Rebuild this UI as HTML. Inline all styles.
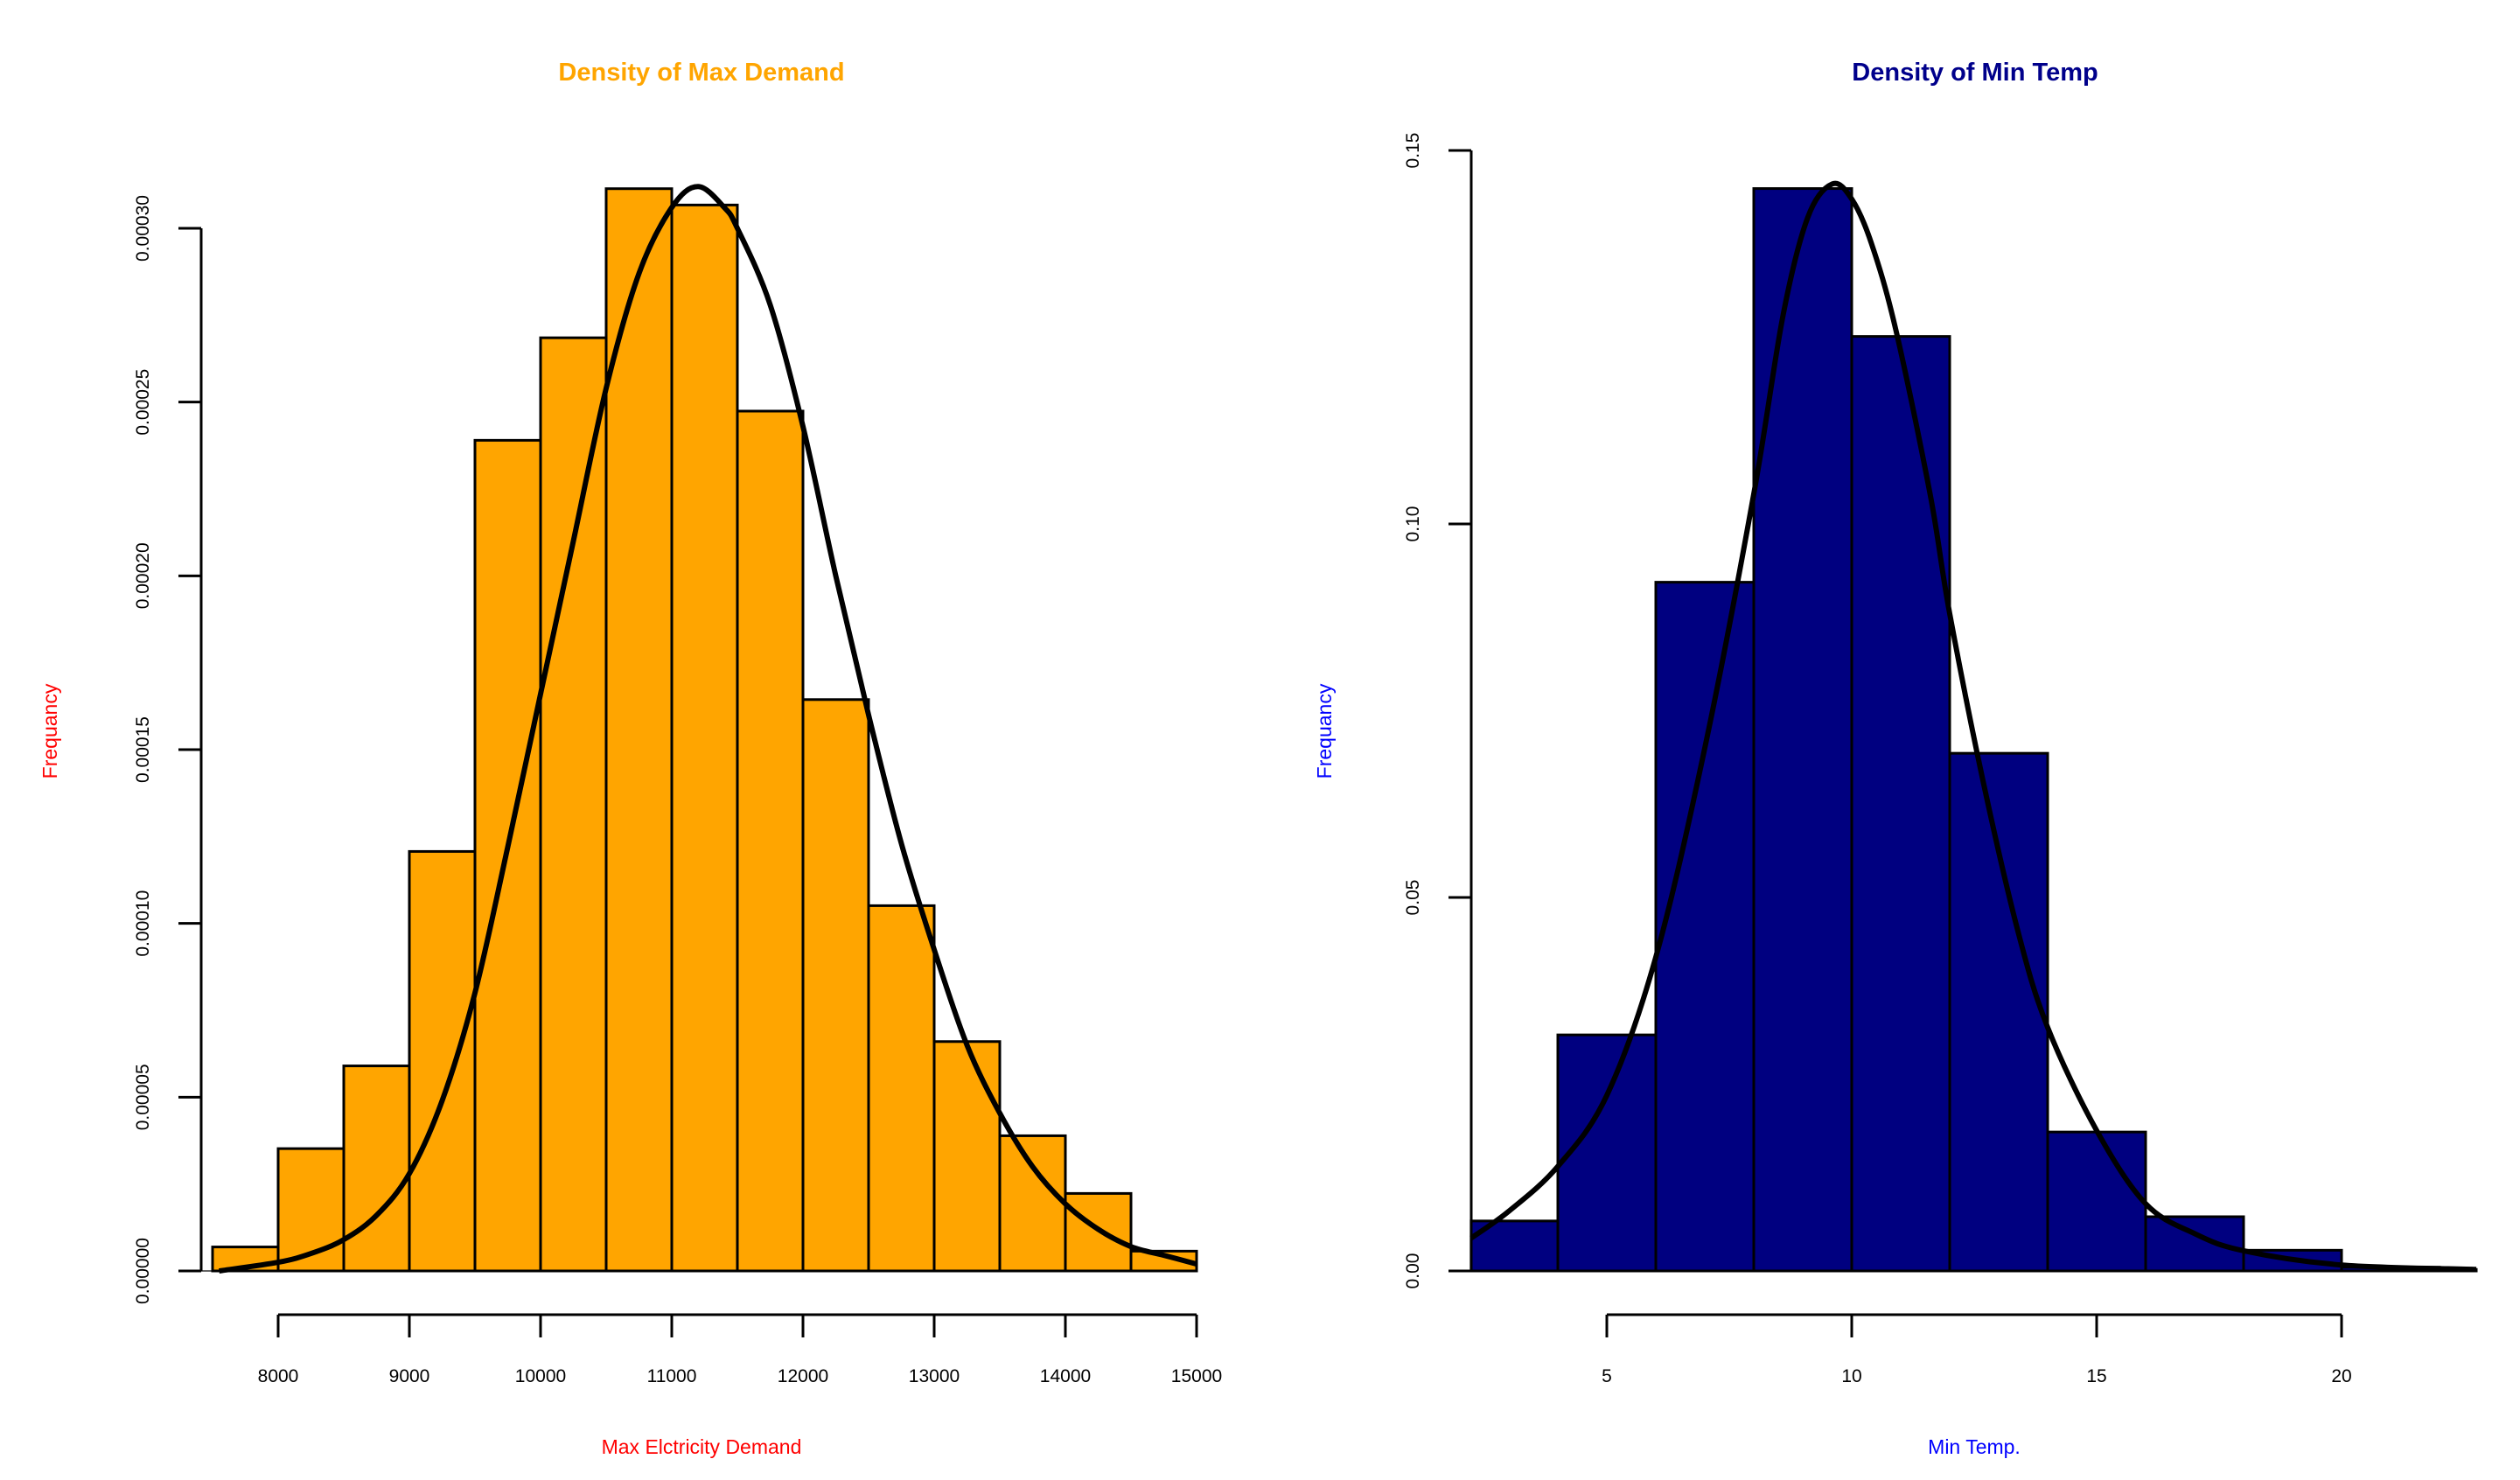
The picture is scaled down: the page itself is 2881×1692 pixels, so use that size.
<!DOCTYPE html>
<html><head><meta charset="utf-8"><style>
html,body{margin:0;padding:0;background:#fff;}
svg{display:block;font-family:"Liberation Sans",sans-serif;}
</style></head><body>
<svg id="c" width="2881" height="1692" viewBox="0 0 2881 1692">
<text x="802" y="92" text-anchor="middle" font-size="29" font-weight="bold" fill="#FFA500">Density of Max Demand</text>
<text x="2258" y="92" text-anchor="middle" font-size="29" font-weight="bold" fill="#00008B">Density of Min Temp</text>
<text x="802" y="1662" text-anchor="middle" font-size="23" fill="#FF0000">Max Elctricity Demand</text>
<text x="2257" y="1662" text-anchor="middle" font-size="23" fill="#0000FF">Min Temp.</text>
<text transform="translate(65,836) rotate(-90)" text-anchor="middle" font-size="23" fill="#FF0000">Frequancy</text>
<text transform="translate(1522,836) rotate(-90)" text-anchor="middle" font-size="23" fill="#0000FF">Frequancy</text>
<g id="L"></g>
<g id="R"></g>
</svg>
<script>
// Left chart data
const demandBreaks = [7500,8000,8500,9000,9500,10000,10500,11000,11500,12000,12500,13000,13500,14000,14500,15000];
const demandDensity = [0.0000069,0.0000352,0.000059,0.0001207,0.000239,0.0002685,0.0003114,0.0003067,0.0002474,0.0001644,0.0001051,0.000066,0.0000389,0.0000223,0.0000057];
const demandCurveX = [7550,8000,8250,8500,8750,9000,9250,9500,9750,10000,10250,10500,10750,11000,11200,11400,11500,11750,12000,12250,12500,12750,13000,13250,13500,13750,14000,14250,14500,14750,15000];
const demandCurveY = [0,0.0000025,0.000005,0.000009,0.000016,0.000028,0.000049,0.00008,0.000122,0.000166,0.00021,0.000254,0.000287,0.000306,0.000312,0.000306,0.0003,0.000278,0.000243,0.0002,0.00016,0.000123,0.0000925,0.000065,0.0000454,0.00003,0.0000193,0.000012,0.000007,0.0000045,0.000002];
const demandXTicks = [8000,9000,10000,11000,12000,13000,14000,15000];
const demandYTicks = [0,0.00005,0.0001,0.00015,0.0002,0.00025,0.0003];
const demandYLabels = ["0.00000","0.00005","0.00010","0.00015","0.00020","0.00025","0.00030"];
// Right chart data
const tempBreaks = [2,4,6,8,10,12,14,16,18,20,22,24];
const tempDensity = [0.00669,0.0316,0.0922,0.1449,0.1251,0.0693,0.0186,0.00726,0.00277,0.0005,0.0002];
const tempCurveX = [2.23,3,4,5,6,7,8,8.6,9.1,9.6,10,10.4,10.9,11.6,12,12.7,13.4,14,15,16,17,18,20,22.75];
const tempCurveY = [0.0044,0.008,0.014,0.0235,0.042,0.07,0.104,0.128,0.141,0.1455,0.1435,0.1376,0.126,0.104,0.088,0.065,0.0453,0.0326,0.0188,0.009,0.005,0.0027,0.0008,0.0002];
const tempXTicks = [5,10,15,20];
const tempYTicks = [0,0.05,0.1,0.15];
const tempYLabels = ["0.00","0.05","0.10","0.15"];

const NS="http://www.w3.org/2000/svg";
function mk(p,tag,a){const e=document.createElementNS(NS,tag);for(const k in a)e.setAttribute(k,a[k]);p.appendChild(e);return e;}
function smoothPath(P){
  let d='M'+P[0][0].toFixed(1)+','+P[0][1].toFixed(1);
  for(let i=0;i<P.length-1;i++){
    const p0=P[Math.max(i-1,0)],p1=P[i],p2=P[i+1],p3=P[Math.min(i+2,P.length-1)];
    const c1x=p1[0]+(p2[0]-p0[0])/6,c1y=p1[1]+(p2[1]-p0[1])/6;
    const c2x=p2[0]-(p3[0]-p1[0])/6,c2y=p2[1]-(p3[1]-p1[1])/6;
    d+=' C'+c1x.toFixed(1)+','+c1y.toFixed(1)+' '+c2x.toFixed(1)+','+c2y.toFixed(1)+' '+p2[0].toFixed(1)+','+p2[1].toFixed(1);
  }
  return d;
}

function drawPlot(g,cfg){
  const sx=v=>cfg.x0+(v-cfg.xv0)*cfg.xs;
  const sy=v=>cfg.y0-v*cfg.ys;
  const xmin=cfg.xmin, xmax=cfg.xmax;
  const base=mk(g,'line',{x1:cfg.baseL,x2:sx(xmax),y1:sy(0),y2:sy(0),stroke:'#666','stroke-width':2});
  
  
  for(let i=0;i<cfg.dens.length;i++){
    const a=Math.max(cfg.breaks[i],xmin), b=Math.min(cfg.breaks[i+1],xmax);
    const r=mk(g,'rect',{x:sx(a),y:sy(cfg.dens[i]),width:sx(b)-sx(a),height:sy(0)-sy(cfg.dens[i]),fill:cfg.fill,stroke:'#000','stroke-width':3});
    
    
  }
  const P=cfg.cx.map((v,i)=>[sx(v),sy(cfg.cy[i])]);
  const pl=mk(g,'path',{d:smoothPath(P),fill:'none',stroke:'#000','stroke-width':6,'stroke-linejoin':'round'});
  
  
  const ya=mk(g,'line',{x1:cfg.yaxX,x2:cfg.yaxX,y1:sy(cfg.yt[0]),y2:sy(cfg.yt[cfg.yt.length-1]),stroke:'#000','stroke-width':3});
  
  
  cfg.yt.forEach((v,i)=>{
    mk(g,'line',{x1:cfg.yaxX-26,x2:cfg.yaxX,y1:sy(v),y2:sy(v),stroke:'#000','stroke-width':3});
    const t=mk(g,'text',{transform:`translate(${cfg.yaxX-60},${sy(v)}) rotate(-90)`,'text-anchor':'middle','font-size':21,fill:'#000'});
    t.textContent=cfg.yl[i];
    
    
  });
  const axY=1503;
  const xa=mk(g,'line',{x1:sx(cfg.xt[0]),x2:sx(cfg.xt[cfg.xt.length-1]),y1:axY,y2:axY,stroke:'#000','stroke-width':3});
  
  
  cfg.xt.forEach(v=>{
    mk(g,'line',{x1:sx(v),x2:sx(v),y1:axY,y2:axY+26,stroke:'#000','stroke-width':3});
    const t=mk(g,'text',{x:sx(v),y:1580,'text-anchor':'middle','font-size':21,fill:'#000'});
    t.textContent=v;
    
    
  });
}
drawPlot(document.getElementById('L'),{x0:318,xv0:8000,xs:0.15,y0:1453,ys:1192/0.0003,
  breaks:demandBreaks,dens:demandDensity,cx:demandCurveX,cy:demandCurveY,xt:demandXTicks,yt:demandYTicks,yl:demandYLabels,
  fill:'#FFA500',xmin:7500,xmax:15000,yaxX:230,baseL:230});
drawPlot(document.getElementById('R'),{x0:1837,xv0:5,xs:56,y0:1453,ys:1281/0.15,
  breaks:tempBreaks,dens:tempDensity,cx:tempCurveX,cy:tempCurveY,xt:tempXTicks,yt:tempYTicks,yl:tempYLabels,
  fill:'#000080',xmin:2.23,xmax:22.75,yaxX:1682,baseL:1657});
</script>
</body></html>
